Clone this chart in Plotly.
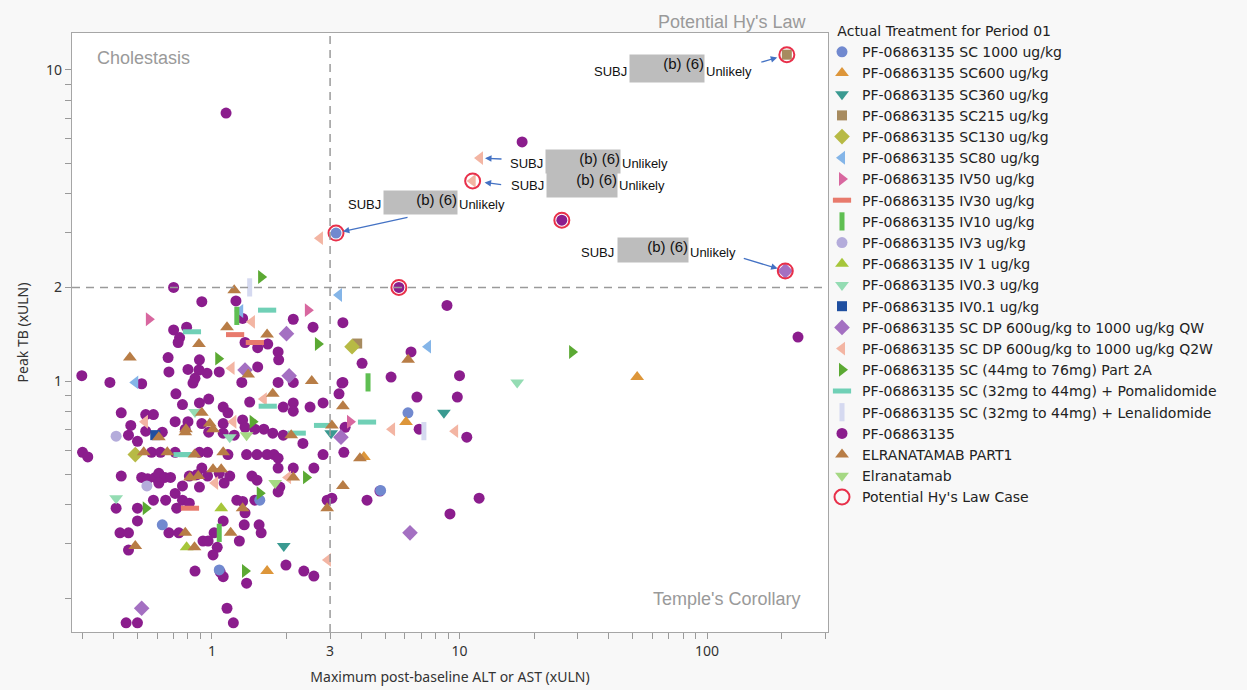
import math
import plotly.graph_objects as go

# ---------------- axis settings (data units) ----------------
x_range = [0.272, 308]
y_range = [0.156, 13.15]
alt_threshold = 3
tb_threshold = 2
x_tickvals = [0.3, 0.4, 0.5, 0.6, 0.7, 0.8, 0.9, 1, 2, 3, 4, 5, 6, 7, 8, 9,
              10, 20, 30, 40, 50, 60, 70, 80, 90, 100, 200, 300]
x_labels = {1: "1", 3: "3", 10: "10", 100: "100"}
y_tickvals = [0.2, 0.3, 0.4, 0.5, 0.6, 0.7, 0.8, 0.9, 1, 2, 3, 4, 5, 6, 7, 8, 9, 10]
y_labels = {1: "1", 2: "2", 10: "10"}

# ---------------- data: (max ALT/AST xULN, peak TB xULN) ----------------
sc1000_x = [3.17, 6.19, 1.56, 0.63, 1.07, 4.8]
sc1000_y = [2.99, 0.79, 0.414, 0.345, 0.247, 0.445]

sc600_x = [1.67, 6.08, 4.11, 52.2]
sc600_y = [0.245, 0.738, 0.57, 1.03]

sc360_x = [8.65, 3.03, 1.95]
sc360_y = [0.79, 0.68, 0.295]

sc215_x = [210, 3.86]
sc215_y = [11.2, 1.32]

sc130_x = [3.68, 0.49]
sc130_y = [1.29, 0.58]

sc80_x = [3.26, 7.46, 0.49, 1.30]
sc80_y = [1.89, 1.29, 0.99, 1.68]

iv50_x = [0.556, 2.44, 3.61]
iv50_y = [1.58, 1.69, 0.74]

iv30_x = [1.24, 1.49, 0.815]
iv30_y = [1.41, 1.33, 0.39]

iv10_x = [1.26, 4.27, 1.07]
iv10_y = [1.62, 0.99, 0.325]

iv3_x = [0.41, 0.546]
iv3_y = [0.665, 0.46]

iv1_x = [1.09, 0.79]
iv1_y = [0.39, 0.292]

iv03_x = [0.854, 1.18, 17.1, 0.41]
iv03_y = [0.795, 0.66, 0.99, 0.42]

iv01_x = [0.59]
iv01_y = [0.67]

dpqw_x = [207, 2.0, 1.36, 2.05, 3.32, 6.31, 0.52]
dpqw_y = [2.26, 1.42, 1.085, 1.04, 0.66, 0.325, 0.186]

dpq2w_x = [11.3, 12.1, 2.73, 1.45, 1.2, 1.62, 0.536, 1.22, 1.03, 2.03, 5.34, 9.6, 2.94]
dpq2w_y = [4.4, 5.21, 2.88, 1.55, 1.10, 0.875, 0.74, 0.74, 0.47, 0.49, 0.70, 0.69, 0.266]

p2a_x = [1.58, 2.68, 1.06, 1.46, 2.4, 0.54, 1.56, 1.36, 28.5]
p2a_y = [2.16, 1.315, 1.18, 0.74, 0.49, 0.39, 0.436, 0.245, 1.24]

pom_x = [1.67, 0.83, 1.68, 2.2, 2.81, 4.23, 0.76, 0.80]
pom_y = [1.69, 1.44, 0.83, 0.68, 0.72, 0.738, 0.58, 0.58]

len_x = [1.42, 7.18]
len_y = [2.0, 0.69]

pf_x = [1.14, 17.9, 25.9, 5.69, 0.70, 8.9, 233, 0.91, 1.25, 1.33, 2.13, 2.56, 3.38,
        0.70, 0.79, 0.74, 0.73, 1.36, 1.53, 1.68, 1.85, 1.86, 0.665, 0.67, 0.298,
        0.387, 0.52, 0.80, 0.89, 0.886, 0.955, 0.854, 0.838, 1.07, 1.32, 1.53, 1.85,
        2.13, 3.38, 0.715, 0.76, 0.89, 0.97, 1.42, 1.94, 2.13, 2.13, 2.49, 2.81, 3.26,
        0.43, 0.54, 0.58, 0.47, 0.54, 0.71, 0.80, 0.78, 0.91, 1.11, 1.16, 1.11, 1.33,
        1.36, 1.49, 1.62, 1.76, 1.94, 2.33, 3.45, 0.46, 0.50, 0.63, 0.97, 1.11, 1.23,
        4.04, 5.29, 6.37, 10.0, 3.35, 6.73, 9.8, 6.87, 10.7, 4.77, 4.23, 12.0, 9.15,
        3.41, 0.30, 0.315, 0.57, 0.62, 0.71, 0.89, 0.96, 1.16, 1.38, 1.52, 1.67, 1.78,
        1.85, 2.81, 0.43, 0.52, 0.55, 0.59, 0.61, 0.645, 0.68, 0.61, 0.71, 0.76, 0.81,
        0.87, 0.91, 0.89, 0.96, 1.07, 1.18, 1.12, 1.45, 1.52, 1.88, 1.85, 2.13, 2.58,
        0.41, 0.50, 0.58, 0.65, 0.72, 0.76, 0.81, 1.26, 1.33, 1.36, 1.49, 1.85, 2.92,
        3.05, 0.50, 0.425, 0.46, 0.46, 0.67, 0.735, 1.11, 1.35, 1.55, 1.58, 1.02, 0.92,
        0.965, 1.05, 1.01, 1.29, 0.854, 1.08, 1.11, 1.38, 1.99, 2.35, 2.58, 0.45, 0.50,
        1.15, 1.22]
pf_y = [7.27, 5.87, 3.29, 2.0, 2.0, 1.75, 1.385, 1.80, 1.81, 1.59, 1.58, 1.49, 1.54,
        1.46, 1.49, 1.38, 1.33, 1.33, 1.28, 1.315, 1.24, 1.17, 1.19, 1.07, 1.04,
        0.99, 0.98, 1.09, 1.17, 1.085, 1.06, 1.02, 0.985, 1.07, 0.99, 1.11, 0.99,
        0.99, 0.99, 0.91, 0.84, 0.85, 0.875, 0.856, 0.825, 0.85, 0.80, 0.825, 0.85, 0.91,
        0.79, 0.78, 0.78, 0.72, 0.69, 0.74, 0.74, 0.70, 0.73, 0.825, 0.79, 0.73, 0.75,
        0.71, 0.70, 0.70, 0.68, 0.67, 0.63, 0.71, 0.67, 0.64, 0.685, 0.685, 0.68, 0.67,
        1.14, 1.03, 1.24, 1.04, 0.985, 0.888, 0.888, 0.70, 0.66, 0.443, 0.414, 0.42, 0.374,
        0.59, 0.59, 0.57, 0.59, 0.59, 0.59, 0.59, 0.59, 0.58, 0.58, 0.58, 0.58, 0.58,
        0.565, 0.58, 0.495, 0.49, 0.485, 0.49, 0.505, 0.49, 0.49, 0.47, 0.435, 0.46, 0.495,
        0.50, 0.525, 0.456, 0.495, 0.505, 0.495, 0.47, 0.495, 0.48, 0.456, 0.525, 0.525, 0.525,
        0.39, 0.39, 0.414, 0.414, 0.39, 0.414, 0.405, 0.414, 0.41, 0.377, 0.414, 0.44, 0.414,
        0.42, 0.355, 0.325, 0.325, 0.286, 0.325, 0.325, 0.355, 0.345, 0.345, 0.325, 0.325, 0.306,
        0.306, 0.292, 0.276, 0.306, 0.245, 0.243, 0.235, 0.224, 0.256, 0.245, 0.236, 0.167, 0.167,
        0.186, 0.167]

elra1_x = [1.23, 1.15, 0.886, 1.67, 0.466, 1.40, 2.53, 6.2, 1.76, 3.38, 0.91, 0.785,
           0.98, 1.01, 2.09, 3.05, 0.61, 0.78, 0.53, 0.66, 0.85, 1.11, 3.96, 0.815,
           0.88, 1.01, 1.09, 2.13, 3.38, 1.33, 2.92, 0.49, 0.78, 1.19, 0.85]
elra1_y = [1.96, 1.49, 1.315, 1.41, 1.19, 1.05, 1.0, 1.17, 0.91, 0.83, 0.79, 0.70,
           0.73, 0.70, 0.67, 0.72, 0.66, 0.685, 0.59, 0.59, 0.58, 0.59, 0.565, 0.49,
           0.495, 0.52, 0.52, 0.49, 0.46, 0.39, 0.39, 0.295, 0.325, 0.325, 0.292]

elra_x = [1.80, 1.38]
elra_y = [0.47, 0.67]

hy_x = [210, 11.3, 3.17, 25.9, 5.69, 207]
hy_y = [11.2, 4.4, 2.99, 3.29, 2.0, 2.26]

# ---------------- series definitions ----------------
series = [
    ("PF-06863135 SC 1000 ug/kg", sc1000_x, sc1000_y, "circle", "#7189cf", 11),
    ("PF-06863135 SC600 ug/kg", sc600_x, sc600_y, "triangle-up", "#dd963a", 12),
    ("PF-06863135 SC360 ug/kg", sc360_x, sc360_y, "triangle-down", "#3a9a91", 12),
    ("PF-06863135 SC215 ug/kg", sc215_x, sc215_y, "square", "#a78b5f", 10),
    ("PF-06863135 SC130 ug/kg", sc130_x, sc130_y, "diamond", "#b7ba45", 12),
    ("PF-06863135 SC80 ug/kg", sc80_x, sc80_y, "triangle-left", "#84b5e8", 12),
    ("PF-06863135 IV50 ug/kg", iv50_x, iv50_y, "triangle-right", "#d8679f", 12),
    ("PF-06863135 IV30 ug/kg", iv30_x, iv30_y, "line-ew", "#e87a6c", 13),
    ("PF-06863135 IV10 ug/kg", iv10_x, iv10_y, "line-ns", "#5fbf52", 13),
    ("PF-06863135 IV3 ug/kg", iv3_x, iv3_y, "circle", "#b4acdb", 11),
    ("PF-06863135 IV 1 ug/kg", iv1_x, iv1_y, "triangle-up", "#a6c63a", 12),
    ("PF-06863135 IV0.3 ug/kg", iv03_x, iv03_y, "triangle-down", "#94dcb3", 12),
    ("PF-06863135 IV0.1 ug/kg", iv01_x, iv01_y, "square", "#1f4fa0", 10),
    ("PF-06863135 SC DP 600ug/kg to 1000 ug/kg QW", dpqw_x, dpqw_y, "diamond", "#a470c2", 12),
    ("PF-06863135 SC DP 600ug/kg to 1000 ug/kg Q2W", dpq2w_x, dpq2w_y, "triangle-left", "#f3b5a3", 12),
    ("PF-06863135 SC (44mg to 76mg) Part 2A", p2a_x, p2a_y, "triangle-right", "#5ba933", 12),
    ("PF-06863135 SC (32mg to 44mg) + Pomalidomide", pom_x, pom_y, "line-ew", "#70d0b6", 13),
    ("PF-06863135 SC (32mg to 44mg) + Lenalidomide", len_x, len_y, "line-ns", "#d5d9f0", 13),
    ("PF-06863135", pf_x, pf_y, "circle", "#8b1d8d", 11),
    ("ELRANATAMAB PART1", elra1_x, elra1_y, "triangle-up", "#b87d46", 12),
    ("Elranatamab", elra_x, elra_y, "triangle-down", "#a5d883", 12),
]

fig = go.Figure()

# draw the large PF-06863135 group first so the other symbols stay visible
draw_order = [18] + [i for i in range(len(series)) if i != 18]
for i in draw_order:
    name, xs, ys, sym, col, size = series[i]
    if sym.startswith("line"):
        marker = dict(symbol=sym, size=size, color=col, line=dict(color=col, width=5))
    else:
        marker = dict(symbol=sym, size=size, color=col, line=dict(width=0))
    fig.add_trace(go.Scatter(x=xs, y=ys, mode="markers", name=name, marker=marker,
                             legendrank=i + 1))

fig.add_trace(go.Scatter(x=hy_x, y=hy_y, mode="markers", name="Potential Hy's Law Case",
                         marker=dict(symbol="circle-open", size=15, color="#e8304a",
                                     line=dict(color="#e8304a", width=2)),
                         legendrank=len(series) + 1))

# ---------------- reference lines ----------------
fig.add_shape(type="line", xref="x", yref="paper", x0=alt_threshold, x1=alt_threshold, y0=0, y1=1,
              line=dict(color="#9a9a9a", width=1.5, dash="8px,6px"))
fig.add_shape(type="line", xref="paper", yref="y", x0=0, x1=1, y0=tb_threshold, y1=tb_threshold,
              line=dict(color="#9a9a9a", width=1.5, dash="8px,6px"))

# ---------------- layout geometry helpers (pixels -> paper) ----------------
PL, PR, PT, PB = 72, 828, 33, 632
def px(v):
    return (v - PL) / (PR - PL)
def py(v):
    return (PB - v) / (PB - PT)

ann = []
quad_font = dict(family="Liberation Sans, Arial, sans-serif", size=18, color="#9a9a9a")
ann.append(dict(text="Cholestasis", x=px(95), y=py(58), xanchor="left", yanchor="middle", font=quad_font))
ann.append(dict(text="Potential Hy's Law", x=px(809), y=py(22), xanchor="right", yanchor="middle", font=quad_font))
ann.append(dict(text="Temple's Corollary", x=px(802), y=py(599), xanchor="right", yanchor="middle", font=quad_font))

lab_font = dict(family="Liberation Sans, Arial, sans-serif", size=13, color="#111111")
box_font = dict(family="Liberation Sans, Arial, sans-serif", size=15, color="#111111")
# (SUBJ right edge, box center x, box center y, box w, box h, text y)
labels = [
    (629, 667, 69, 74, 27, 72),
    (545, 583, 161, 74, 23, 163),
    (546, 582, 184, 70, 26, 185),
    (383, 420, 202, 73, 23, 205),
    (616, 653, 250, 70, 24, 253),
]
for sr, bx, by, bw, bh, ty in labels:
    ann.append(dict(text="(b) (6)", x=px(bx), y=py(by), xanchor="center", yanchor="middle",
                    width=bw, height=bh, bgcolor="#bdbdbd", align="right", valign="top",
                    borderpad=0, font=box_font))
    ann.append(dict(text="SUBJ", x=px(sr), y=py(ty), xanchor="right", yanchor="middle", font=lab_font))
    ann.append(dict(text="Unlikely", x=px(bx + bw / 2), y=py(ty), xanchor="left", yanchor="middle", font=lab_font))

for a in ann:
    a.update(xref="paper", yref="paper", showarrow=False)

# arrows pointing at subjects: (x, y, tail dx px, tail dy px, standoff)
arrows = [
    (hy_x[0], hy_y[0], -27, 8, 10),
    (dpq2w_x[1], dpq2w_y[1], 23, 1, 5),
    (hy_x[1], hy_y[1], 30, 4, 12),
    (hy_x[2], hy_y[2], 73, -16, 7),
    (hy_x[5], hy_y[5], -43, -13, 8),
]
for xv, yv, dx, dy, so in arrows:
    ann.append(dict(text="", x=math.log10(xv), y=math.log10(yv), xref="x", yref="y",
                    ax=dx, ay=dy, axref="pixel", ayref="pixel", showarrow=True,
                    arrowhead=2, arrowsize=1, arrowwidth=1.3, arrowcolor="#4472c4", standoff=so))

axis_font = dict(family="Noto Sans, sans-serif", size=14, color="#333333")
legend_font = dict(family="DejaVu Sans, sans-serif", size=14, color="#222222")
fig.update_layout(
    width=1247, height=690,
    margin=dict(l=PL, r=1247 - PR, t=PT, b=690 - PB, autoexpand=False),
    paper_bgcolor="#f8f8f8", plot_bgcolor="#ffffff",
    annotations=ann,
    legend=dict(
        title=dict(text="\u00a0\u00a0\u00a0Actual Treatment for Period 01", font=legend_font),
        font=legend_font,
        x=px(822), y=py(513), xanchor="left", yanchor="bottom",
        bgcolor="rgba(0,0,0,0)", itemsizing="trace", traceorder="normal",
    ),
    xaxis=dict(
        type="log", range=[math.log10(x_range[0]), math.log10(x_range[1])],
        tickvals=x_tickvals, ticktext=[x_labels.get(v, "") for v in x_tickvals],
        ticks="outside", ticklen=6, tickcolor="#9a9a9a", tickfont=axis_font,
        showline=True, linecolor="#a6a6a6", linewidth=1.2, mirror=True,
        showgrid=False, zeroline=False,
        title=dict(text="Maximum post-baseline ALT or AST (xULN)", font=axis_font, standoff=13),
    ),
    yaxis=dict(
        type="log", range=[math.log10(y_range[0]), math.log10(y_range[1])],
        tickvals=y_tickvals, ticktext=[y_labels.get(v, "") for v in y_tickvals],
        ticks="outside", ticklen=6, tickcolor="#9a9a9a", tickfont=axis_font,
        showline=True, linecolor="#a6a6a6", linewidth=1.2, mirror=True,
        showgrid=False, zeroline=False,
        title=dict(text="Peak TB (xULN)", font=axis_font, standoff=14),
    ),
)

fig.write_html("out.html")
